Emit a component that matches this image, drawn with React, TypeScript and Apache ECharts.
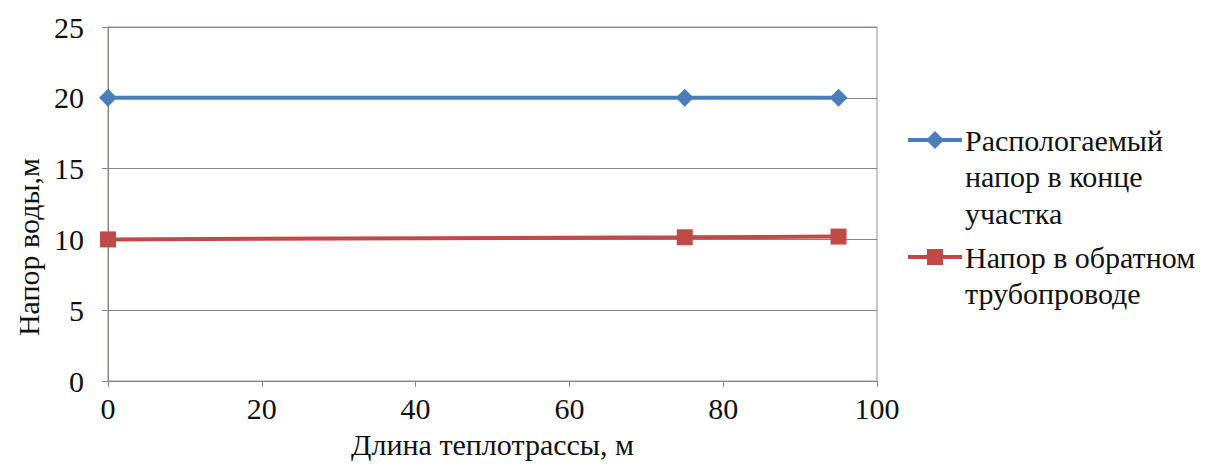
import React, { useEffect, useRef } from "react";
import * as echarts from "echarts";

const xValues = [0, 75, 95];
const availableHead = [20, 20, 20];
const returnHead = [10, 10.15, 10.2];
const seriesNames = [
  "Распологаемый напор в конце участка",
  "Напор в обратном трубопроводе",
];
const legendLabels = ["Распологаемый\nнапор в конце\nучастка", "Напор в обратном\nтрубопроводе"];
const xAxisTitle = "Длина теплотрассы, м";
const yAxisTitle = "Напор воды,м";

const FONT = "Liberation Serif";
const TEXT = "#111111";
const AXIS = "#868686";
const BLUE = "#4a7ebb";
const RED = "#be4b48";

export default function App() {
  const ref = useRef<HTMLDivElement>(null);
  useEffect(() => {
    document.body.style.margin = "0";
    const chart = echarts.init(ref.current!, undefined, { renderer: "svg" });
    const lh = 36.5;
    const legendX = 908;
    const legendY = [140, 257];
    const colors = [BLUE, RED];
    const legendGraphics: any[] = [];
    seriesNames.forEach((_, i) => {
      const y = legendY[i];
      legendGraphics.push({
        type: "line",
        shape: { x1: legendX, y1: y, x2: legendX + 54, y2: y },
        style: { stroke: colors[i], lineWidth: 4 },
      });
      if (i === 0) {
        legendGraphics.push({
          type: "polygon",
          shape: {
            points: [
              [legendX + 27, y - 9],
              [legendX + 36, y],
              [legendX + 27, y + 9],
              [legendX + 18, y],
            ],
          },
          style: { fill: colors[i] },
        });
      } else {
        legendGraphics.push({
          type: "rect",
          shape: { x: legendX + 19, y: y - 8, width: 16, height: 16 },
          style: { fill: colors[i] },
        });
      }
      legendGraphics.push({
        type: "text",
        x: legendX + 57,
        y: y - lh / 2,
        style: {
          text: legendLabels[i],
          fontFamily: FONT,
          fontSize: 30,
          fill: TEXT,
          lineHeight: lh,
          verticalAlign: "top",
          align: "left",
        },
      });
    });
    chart.setOption({
      animation: false,
      backgroundColor: "#ffffff",
      textStyle: { fontFamily: FONT },
      grid: {
        left: 108,
        right: 331,
        top: 27,
        bottom: 80,
        show: true,
        borderColor: "#8a8ac4",
        borderWidth: 1,
        backgroundColor: "transparent",
      },
      xAxis: {
        type: "value",
        min: 0,
        max: 100,
        interval: 20,
        name: xAxisTitle,
        nameLocation: "middle",
        nameGap: 48,
        nameTextStyle: { fontFamily: FONT, fontSize: 30, color: TEXT },
        axisLine: { show: true, onZero: false, lineStyle: { color: AXIS, width: 1 } },
        axisTick: { show: true, length: 6, lineStyle: { color: AXIS } },
        axisLabel: { margin: 12, fontFamily: FONT, fontSize: 30, color: TEXT },
        splitLine: { show: false },
      },
      yAxis: {
        type: "value",
        min: 0,
        max: 25,
        interval: 5,
        name: yAxisTitle,
        nameLocation: "middle",
        nameGap: 64,
        nameTextStyle: {
          fontFamily: FONT,
          fontSize: 30,
          color: TEXT,
          padding: [0, 86, 0, 0],
        },
        axisLine: { show: true, lineStyle: { color: AXIS, width: 1 } },
        axisTick: { show: true, length: 6, lineStyle: { color: AXIS } },
        axisLabel: { margin: 24, fontFamily: FONT, fontSize: 30, color: TEXT },
        splitLine: { show: true, lineStyle: { color: AXIS, width: 1 } },
      },
      graphic: legendGraphics,
      series: [
        {
          name: seriesNames[0],
          type: "line",
          data: xValues.map((x, i) => [x, availableHead[i]]),
          symbol: "diamond",
          symbolSize: 18,
          itemStyle: { color: BLUE },
          lineStyle: { color: BLUE, width: 4 },
        },
        {
          name: seriesNames[1],
          type: "line",
          data: xValues.map((x, i) => [x, returnHead[i]]),
          symbol: "rect",
          symbolSize: 16,
          itemStyle: { color: RED },
          lineStyle: { color: RED, width: 4 },
        },
      ],
    });
    return () => chart.dispose();
  }, []);
  return <div ref={ref} style={{ width: 1208, height: 464 }} />;
}
